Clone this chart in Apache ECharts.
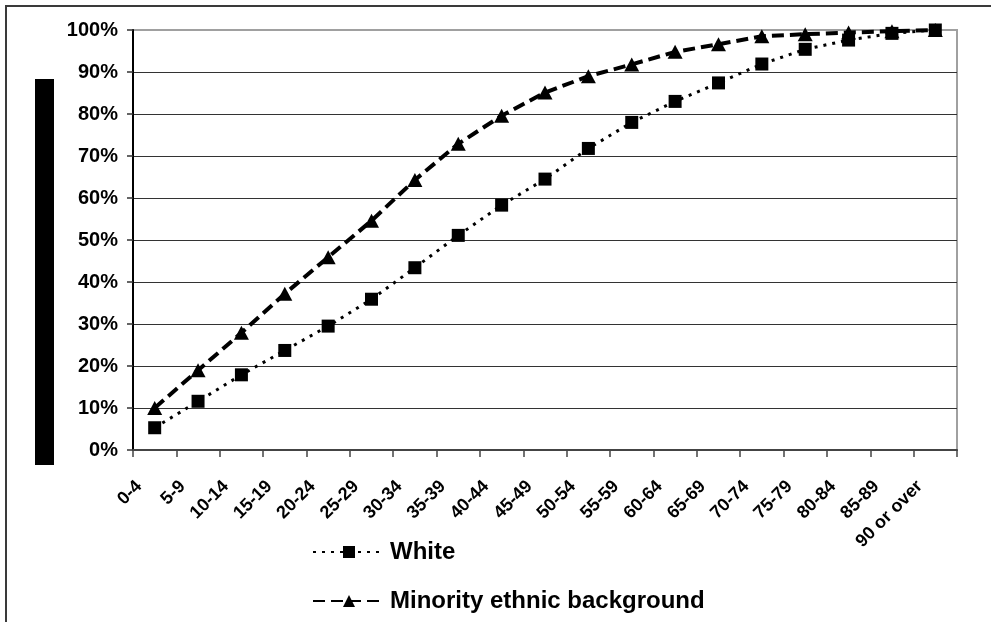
<!DOCTYPE html>
<html>
<head>
<meta charset="utf-8">
<style>
  html, body { margin: 0; padding: 0; background: #fff; }
  #chart { width: 991px; height: 622px; }
</style>
<script src="https://cdn.jsdelivr.net/npm/echarts@6/dist/echarts.min.js"></script>
</head>
<body>
<div id="chart"></div>
<script>
// Age bands on the horizontal axis
const ageBands = ['0-4', '5-9', '10-14', '15-19', '20-24', '25-29', '30-34', '35-39', '40-44',
  '45-49', '50-54', '55-59', '60-64', '65-69', '70-74', '75-79', '80-84', '85-89', '90 or over'];

// Cumulative share of population (%) by age band
const white = [5.3, 11.6, 17.9, 23.7, 29.5, 35.9, 43.4, 51.1, 58.3, 64.5,
  71.8, 78.0, 83.0, 87.4, 91.9, 95.4, 97.6, 99.2, 100];
const minority = [10.0, 19.0, 27.9, 37.2, 45.9, 54.6, 64.3, 72.9, 79.6, 85.1,
  89.0, 91.8, 94.8, 96.6, 98.5, 99.0, 99.4, 99.7, 100];

// Value axis ticks
const yTicks = { min: 0, max: 100, interval: 10 };

const FONT = '"Liberation Sans", Arial, sans-serif';

const chart = echarts.init(document.getElementById('chart'), null, { renderer: 'canvas' });

// gridline colours: dark for inner lines, light grey for the top edge
const splitColors = ['#333', '#333', '#333', '#333', '#333', '#333', '#333', '#333', '#333', '#333', '#a0a0a0'];

chart.setOption({
  animation: false,
  backgroundColor: '#fff',
  graphic: [
    { type: 'rect', shape: { x: 6, y: 6, width: 1100, height: 800 }, style: { fill: 'none', stroke: '#3a3a3a', lineWidth: 2 }, z: 0 },
    { type: 'rect', shape: { x: 35, y: 79, width: 19, height: 386 }, style: { fill: '#000' }, z: 1 }
  ],
  grid: {
    left: 133, right: 34, top: 30, bottom: 172,
    show: true, borderColor: '#a0a0a0', borderWidth: 2, backgroundColor: 'transparent'
  },
  legend: {
    orient: 'vertical',
    left: 307, top: 534,
    itemWidth: 72, itemHeight: 15, itemGap: 23,
    textStyle: { fontFamily: FONT, fontWeight: 'bold', fontSize: 24, color: '#000', lineHeight: 26 },
    data: ['White', 'Minority ethnic background']
  },
  xAxis: {
    type: 'category',
    data: ageBands,
    boundaryGap: true,
    axisLine: { lineStyle: { color: '#444', width: 2 } },
    axisTick: { show: true, length: 7, lineStyle: { color: '#444', width: 1.5 } },
    axisLabel: {
      rotate: 45, interval: 0, margin: 18, padding: [0, 22, 0, 0],
      fontFamily: FONT, fontWeight: 'bold', fontSize: 18, color: '#000'
    },
    splitLine: { show: false }
  },
  yAxis: {
    type: 'value',
    min: yTicks.min, max: yTicks.max, interval: yTicks.interval,
    axisLine: { show: true, lineStyle: { color: '#000', width: 2 } },
    axisTick: { show: true, length: 6, lineStyle: { color: '#333', width: 1.5 } },
    axisLabel: { formatter: '{value}%', margin: 15, fontFamily: FONT, fontWeight: 'bold', fontSize: 20, color: '#000' },
    splitLine: { show: true, lineStyle: { color: splitColors, width: 1.2 } }
  },
  series: [
    {
      name: 'Minority ethnic background',
      type: 'line',
      data: minority,
      symbol: 'triangle', symbolSize: [15, 14],
      itemStyle: { color: '#000' },
      lineStyle: { color: '#000', width: 4, type: [12, 6] },
      z: 3
    },
    {
      name: 'White',
      type: 'line',
      data: white,
      symbol: 'rect', symbolSize: 13,
      itemStyle: { color: '#000' },
      lineStyle: { color: '#000', width: 3, type: [3, 6] },
      z: 4
    }
  ]
});
</script>
</body>
</html>
